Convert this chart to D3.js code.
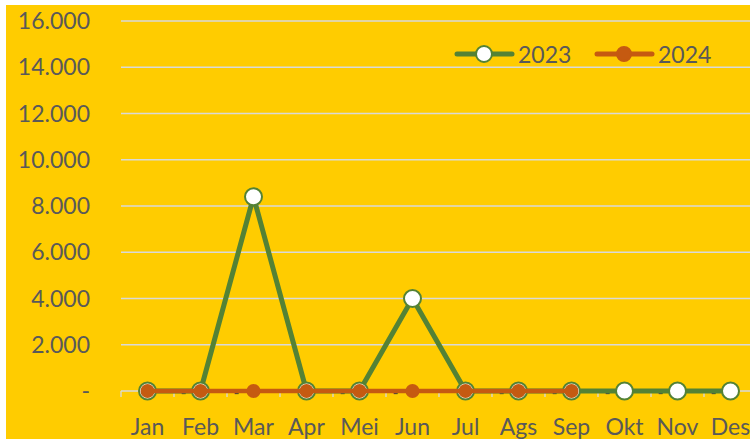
<!DOCTYPE html>
<html><head><meta charset="utf-8">
<script src="https://cdn.jsdelivr.net/npm/d3@7"></script>
<style>html,body{margin:0;padding:0;background:#fff;}svg{display:block;}</style>
</head><body>
<svg id="c" width="750" height="439"></svg>
<script>
const months = ["Jan","Feb","Mar","Apr","Mei","Jun","Jul","Ags","Sep","Okt","Nov","Des"];
const values2023 = [0,0,8400,0,0,4000,0,0,0,0,0,0];
const values2024 = [0,0,0,0,0,0,0,0,0];
const dashLabelMonths = ["Feb","Mar","Mei","Jun","Ags","Sep","Okt","Nov","Des"];
const yTicks = [0,2000,4000,6000,8000,10000,12000,14000,16000];
const seriesNames = ["2023","2024"];

const svg = d3.select("#c");
const W = 750, H = 439;
const green = "#548235", orange = "#C55A11", txt = "#595959";
const font = "Lato, 'Open Sans', sans-serif";

svg.append("rect").attr("x",6).attr("y",5).attr("width",W-6).attr("height",H-5).attr("fill","#FFCC00");

const x = d3.scaleBand().domain(months).range([121,757]);
const y = d3.scaleLinear().domain([0,16000]).range([391,21]);
const fmt = v => v===0 ? "-" : d3.format(",")(v).replace(/,/g,".");

// gridlines
svg.append("g").selectAll("line").data(yTicks.filter(d=>d>0)).join("line")
  .attr("x1",121).attr("x2",W).attr("y1",d=>y(d)).attr("y2",d=>y(d))
  .attr("stroke","#D9D9D9").attr("stroke-width",1.3);

// y labels
svg.append("g").selectAll("text").data(yTicks).join("text")
  .attr("x",90).attr("y",d=>y(d)+8).attr("text-anchor","end")
  .attr("font-family",font).attr("font-size",23).attr("fill",txt)
  .text(fmt);

// x axis line + ticks
const xa = svg.append("g");
xa.append("line").attr("x1",121).attr("x2",W).attr("y1",391).attr("y2",391)
  .attr("stroke","#D9D9D9").attr("stroke-width",1.3);
const bounds = d3.range(months.length+1).map(i=>121+i*x.step());
xa.selectAll("line.t").data(bounds).join("line").attr("class","t")
  .attr("x1",d=>d).attr("x2",d=>d).attr("y1",391).attr("y2",397)
  .attr("stroke","#D9D9D9").attr("stroke-width",1.3);
xa.selectAll("text").data(months).join("text")
  .attr("x",d=>x(d)+x.bandwidth()/2).attr("y",435).attr("text-anchor","middle")
  .attr("font-family",font).attr("font-size",23).attr("fill",txt).text(d=>d);

// dash data labels
svg.append("g").selectAll("text").data(dashLabelMonths).join("text")
  .attr("x",d=>x(d)+x.bandwidth()/2-17).attr("y",398).attr("text-anchor","middle")
  .attr("font-family",font).attr("font-size",16).attr("fill","#404040").text("-");

const cx = (d,i)=>x(months[i])+x.bandwidth()/2;
const line = d3.line().x((d,i)=>cx(d,i)).y(d=>y(d));

// 2023
svg.append("path").datum(values2023).attr("d",line).attr("fill","none")
  .attr("stroke",green).attr("stroke-width",5).attr("stroke-linejoin","round");
svg.append("g").selectAll("circle").data(values2023).join("circle")
  .attr("cx",cx).attr("cy",d=>y(d)).attr("r",8.5)
  .attr("fill","#fff").attr("stroke",green).attr("stroke-width",2);

// 2024
svg.append("path").datum(values2024).attr("d",line).attr("fill","none")
  .attr("stroke",orange).attr("stroke-width",4.5).attr("stroke-linejoin","round");
svg.append("g").selectAll("circle").data(values2024).join("circle")
  .attr("cx",cx).attr("cy",d=>y(d)).attr("r",7)
  .attr("fill",orange);

// legend
const leg = [{name:seriesNames[0],c:green,x0:457,mf:"#fff",r:8},{name:seriesNames[1],c:orange,x0:597,mf:orange,r:7}];
const lg = svg.append("g").selectAll("g").data(leg).join("g");
lg.append("line").attr("x1",d=>d.x0).attr("x2",d=>d.x0+55).attr("y1",54).attr("y2",54)
  .attr("stroke",d=>d.c).attr("stroke-width",5).attr("stroke-linecap","round");
lg.append("circle").attr("cx",d=>d.x0+27).attr("cy",54).attr("r",d=>d.r)
  .attr("fill",d=>d.mf).attr("stroke",d=>d.c).attr("stroke-width",2);
lg.append("text").attr("x",d=>d.x0+61).attr("y",63)
  .attr("font-family",font).attr("font-size",23).attr("fill",txt).text(d=>d.name);
</script>
</body></html>
